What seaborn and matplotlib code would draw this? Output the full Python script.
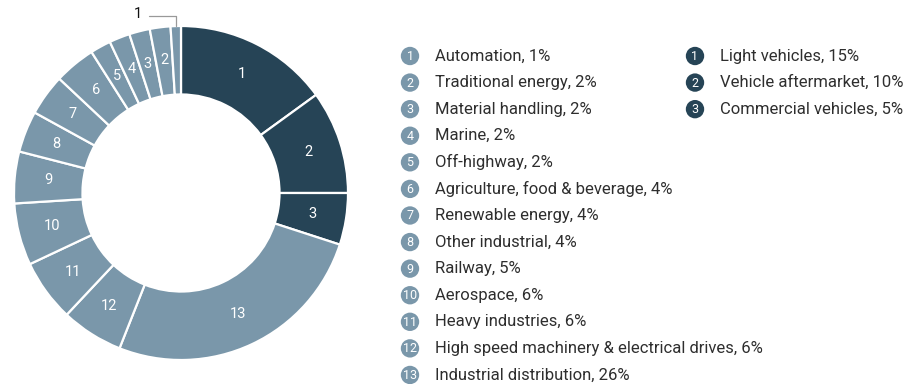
import matplotlib
matplotlib.use("Agg")
import matplotlib.pyplot as plt
import seaborn as sns
import numpy as np

sns.set_theme(style="white")
plt.rcParams["font.family"] = ["Roboto", "DejaVu Sans"]

# Segment data
auto_labels = ["Light vehicles", "Vehicle aftermarket", "Commercial vehicles"]
auto_values = [15, 10, 5]
ind_labels = ["Automation", "Traditional energy", "Material handling", "Marine",
              "Off-highway", "Agriculture, food & beverage", "Renewable energy",
              "Other industrial", "Railway", "Aerospace", "Heavy industries",
              "High speed machinery & electrical drives", "Industrial distribution"]
ind_values = [1, 2, 2, 2, 2, 4, 4, 4, 5, 6, 6, 6, 26]

DARK = "#264456"
LIGHT = "#7a97aa"
TEXT = "#2e2e2e"

# Clockwise from 12 o'clock: automotive 1..3, then industrial 13..1
values = auto_values + ind_values[::-1]
colors = [DARK] * len(auto_values) + [LIGHT] * len(ind_values)
numbers = [str(i + 1) for i in range(len(auto_values))] + \
          [str(i) for i in range(len(ind_values), 0, -1)]

W, H = 909, 384
fig = plt.figure(figsize=(W / 100, H / 100), dpi=100)

cx, cy, R = 181, 193, 167
ax = fig.add_axes([(cx - R) / W, (H - cy - R) / H, 2 * R / W, 2 * R / H])
wedges, _ = ax.pie(values, colors=colors, startangle=90, counterclock=False,
                   radius=1.0, wedgeprops=dict(width=0.41, edgecolor="white", linewidth=1.6))
ax.set_xlim(-1, 1)
ax.set_ylim(-1, 1)
ax.set_aspect("equal")
ax.axis("off")

for w, num, v in zip(wedges, numbers, values):
    if v < 2:
        continue
    ang = np.deg2rad((w.theta1 + w.theta2) / 2)
    r = 0.8
    ax.text(r * np.cos(ang), r * np.sin(ang), num, color="white", fontsize=10.5,
            ha="center", va="center")

# Callout for the smallest segment
w1 = wedges[-1]
ang = np.deg2rad((w1.theta1 + w1.theta2) / 2)
x0, y0 = np.cos(ang) * 1.0, np.sin(ang) * 1.0
ax.plot([x0, x0, x0 - 0.16], [y0, 1.06, 1.06], color="#999999", lw=0.9, clip_on=False)
ax.text(x0 - 0.2, 1.07, numbers[-1], color="#111111", fontsize=10.5, ha="right",
        va="center", clip_on=False)

# Legend drawn in pixel coordinates
lg = fig.add_axes([0, 0, 1, 1])
lg.set_xlim(0, W)
lg.set_ylim(H, 0)
lg.axis("off")
lg.patch.set_alpha(0)

y0, dy = 56, 26.58
for i, (lab, v) in enumerate(zip(ind_labels, ind_values)):
    y = y0 + i * dy
    lg.scatter([410], [y], s=175, color=LIGHT, edgecolor="none")
    lg.text(410, y + 0.5, str(i + 1), color="white", fontsize=9, ha="center", va="center")
    lg.text(435, y, f"{lab}, {v}%", color=TEXT, fontsize=12, ha="left", va="center")

for i, (lab, v) in enumerate(zip(auto_labels, auto_values)):
    y = y0 + i * dy
    lg.scatter([695], [y], s=175, color=DARK, edgecolor="none")
    lg.text(695, y + 0.5, str(i + 1), color="white", fontsize=9, ha="center", va="center")
    lg.text(720, y, f"{lab}, {v}%", color=TEXT, fontsize=12, ha="left", va="center")

fig.savefig("out.png", dpi=100, facecolor="white")
